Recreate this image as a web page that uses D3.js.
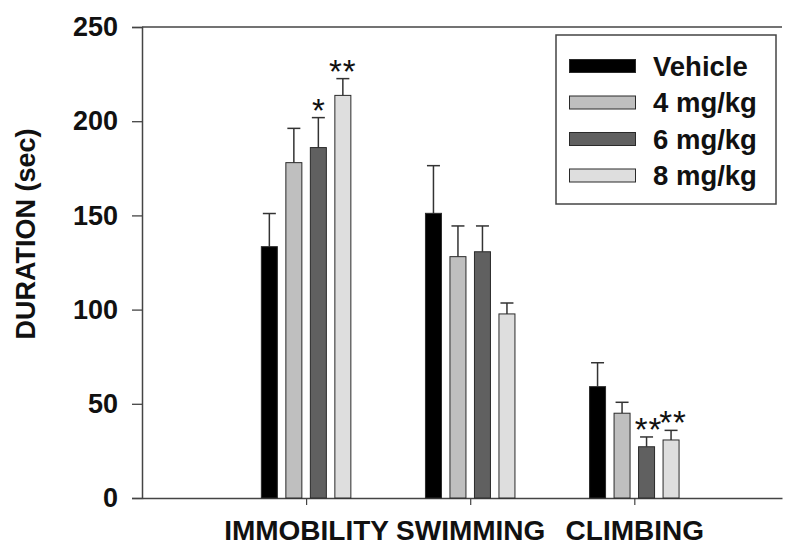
<!DOCTYPE html>
<html>
<head>
<meta charset="utf-8">
<script src="https://cdn.jsdelivr.net/npm/d3@7"></script>
<style>
  html, body { margin: 0; padding: 0; background: #fff; }
  text { font-family: Arial, "Liberation Sans", sans-serif; font-weight: bold; fill: #111; }
</style>
</head>
<body>
<svg id="chart" width="789" height="546"></svg>
<script>
// ---- data ----
const categories = ["IMMOBILITY", "SWIMMING", "CLIMBING"];
const series = ["Vehicle", "4 mg/kg", "6 mg/kg", "8 mg/kg"];
const colors = ["#000000", "#bfbfbf", "#606060", "#dedede"];
// mean values per series across categories
const means = [
  [133.4, 151.1, 59.1],   // Vehicle
  [178.0, 128.1, 45.0],   // 4 mg/kg
  [186.0, 130.7, 27.2],   // 6 mg/kg
  [213.7,  97.7, 30.8]    // 8 mg/kg
];
// upper error bar ends
const errTops = [
  [151.0, 176.4, 71.8],
  [196.2, 144.4, 50.8],
  [201.9, 144.4, 32.4],
  [222.6, 103.5, 35.9]
];
// significance markers
const marks = [
  ["", "", ""],
  ["", "", ""],
  ["*", "", "**"],
  ["**", "", "**"]
];
const yTicks = [0, 50, 100, 150, 200, 250];
const yLabel = "DURATION (sec)";

// ---- layout ----
const svg = d3.select("#chart");
const plotL = 142, plotR = 782, plotT = 27, plotB = 498;

const x = d3.scaleLinear().domain([0, 3.9]).range([plotL, plotR]);
const y = d3.scaleLinear().domain([0, 250]).range([plotB, plotT]);
const inner = d3.scaleBand().domain(series).range([-44.75, 44.75]).paddingInner(0.347).paddingOuter(0);
const catPos = i => x(i + 1);

const axisColor = "#444";

// frame top line
svg.append("line").attr("x1", plotL).attr("x2", plotR).attr("y1", y(250)).attr("y2", y(250))
  .attr("stroke", axisColor).attr("stroke-width", 1.5);

// y axis
const yAxis = svg.append("g").attr("transform", `translate(${plotL},0)`)
  .call(d3.axisLeft(y).tickValues(yTicks).tickSize(10).tickPadding(14).tickFormat(d3.format("d")));
yAxis.select(".domain").attr("stroke", axisColor).attr("stroke-width", 1.5);
yAxis.selectAll(".tick line").attr("stroke", axisColor).attr("stroke-width", 1.3);
yAxis.selectAll(".tick text").style("font-size", "27px").style("font-family", "Arial, 'Liberation Sans', sans-serif")
  .style("font-weight", "bold").attr("fill", "#111");

// x axis
const xAxis = svg.append("g").attr("transform", `translate(0,${plotB})`)
  .call(d3.axisBottom(x).tickValues([1, 2, 3]).tickSize(7).tickPadding(15).tickSizeOuter(0)
    .tickFormat((d) => categories[d - 1]));
xAxis.select(".domain").attr("stroke", axisColor).attr("stroke-width", 1.5);
xAxis.selectAll(".tick line").attr("stroke", axisColor).attr("stroke-width", 1.2);
xAxis.selectAll(".tick text").style("font-size", "28px").style("font-family", "Arial, 'Liberation Sans', sans-serif")
  .style("font-weight", "bold").attr("fill", "#111");

// y label
svg.append("text")
  .attr("transform", `translate(35,234) rotate(-90)`)
  .attr("text-anchor", "middle")
  .style("font-size", "27px")
  .text(yLabel);

// bars
series.forEach((s, si) => {
  const g = svg.append("g");
  categories.forEach((c, ci) => {
    const cx = catPos(ci) + inner(s) + inner.bandwidth() / 2;
    const bx = catPos(ci) + inner(s);
    const v = means[si][ci];
    const e = errTops[si][ci];
    // error bar
    g.append("line").attr("x1", cx).attr("x2", cx).attr("y1", y(v)).attr("y2", y(e))
      .attr("stroke", "#333").attr("stroke-width", 1.5);
    g.append("line").attr("x1", cx - 6.5).attr("x2", cx + 6.5).attr("y1", y(e)).attr("y2", y(e))
      .attr("stroke", "#333").attr("stroke-width", 1.5);
    // bar
    g.append("rect").attr("x", bx).attr("y", y(v)).attr("width", inner.bandwidth())
      .attr("height", y(0) - y(v)).attr("fill", colors[si]).attr("stroke", "#2a2a2a").attr("stroke-width", 1);
    // markers
    if (marks[si][ci]) {
      g.append("text").attr("x", cx + (marks[si][ci].length > 1 && ci === 2 ? 2 : 0)).attr("y", y(e) + 4)
        .attr("text-anchor", "middle")
        .style("font-size", "33px").style("font-weight", "normal")
        .style("letter-spacing", marks[si][ci].length > 1 ? "1px" : "0px")
        .attr("fill", "#222")
        .text(marks[si][ci]);
    }
  });
});

// legend
const lg = svg.append("g");
lg.append("rect").attr("x", 556).attr("y", 35).attr("width", 220).attr("height", 169)
  .attr("fill", "#fff").attr("stroke", axisColor).attr("stroke-width", 1.5);
const rowY = d3.scalePoint().domain(series).range([66, 175.5]);
series.forEach((s, si) => {
  lg.append("rect").attr("x", 569.5).attr("y", rowY(s) - 6.5).attr("width", 66).attr("height", 13)
    .attr("fill", colors[si]).attr("stroke", "#2a2a2a").attr("stroke-width", 1);
  lg.append("text").attr("x", 653).attr("y", rowY(s) + 9.5)
    .style("font-size", "27.5px").text(s);
});
</script>
</body>
</html>
